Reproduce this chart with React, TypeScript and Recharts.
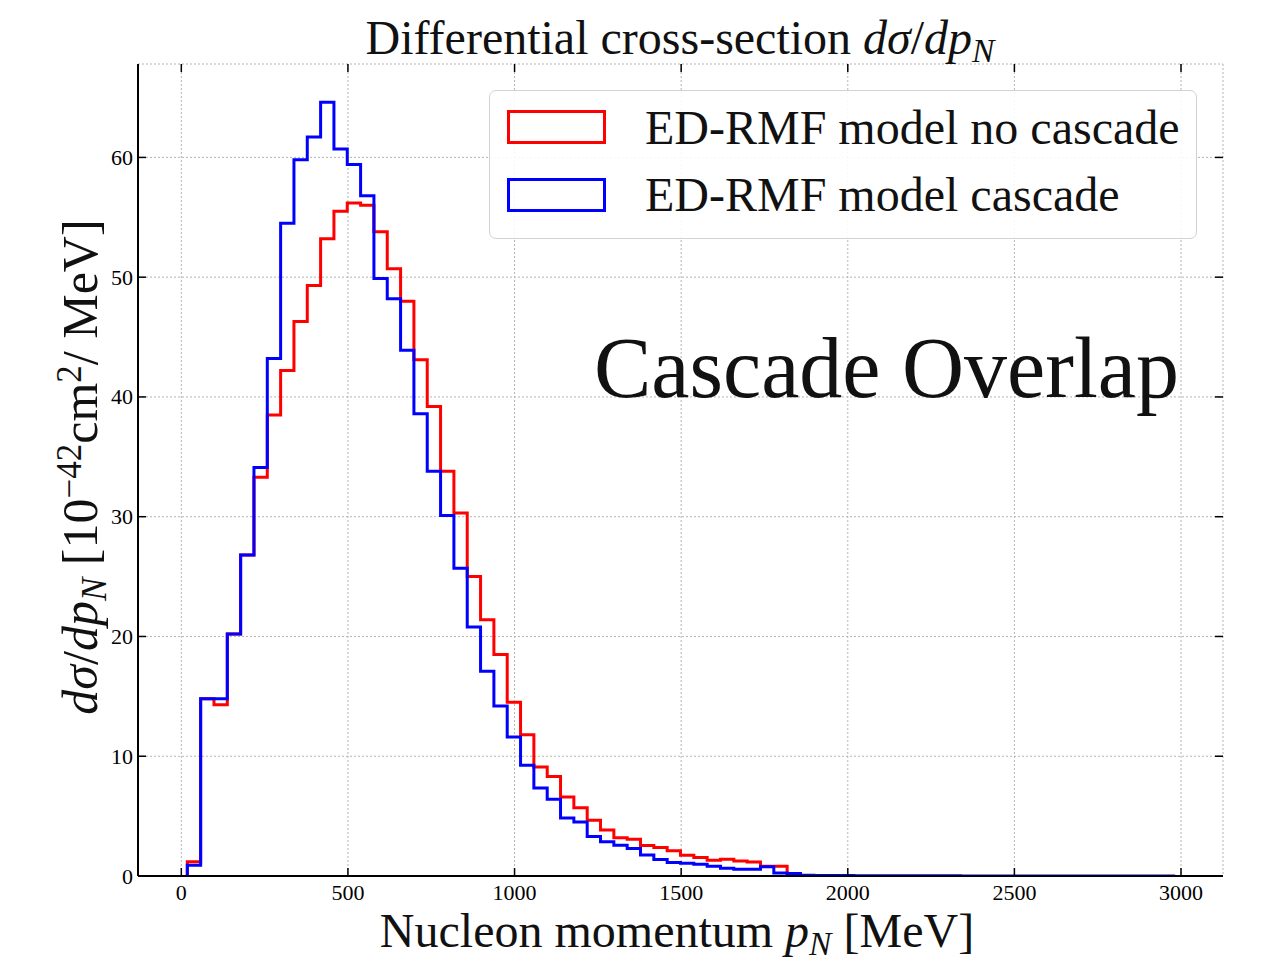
import React from 'react';
import { LineChart, Line, XAxis, YAxis, CartesianGrid, Legend } from 'recharts';

// histogram bin edges [MeV] (40 MeV bins)
const binEdges = [
  18, 58, 98, 138, 178, 218, 258, 298, 338, 378, 418, 458, 498, 538, 578, 618, 658, 698, 738, 778,
  818, 858, 898, 938, 978, 1018, 1058, 1098, 1138, 1178, 1218, 1258, 1298, 1338, 1378, 1418, 1458,
  1498, 1538, 1578, 1618, 1658, 1698, 1738, 1778, 1818, 1858, 1898, 1938, 1978, 2018, 2058, 2098,
  2138, 2178, 2218, 2258, 2298, 2338, 2378, 2418, 2458, 2498, 2538, 2578, 2618, 2658, 2698, 2738,
  2778, 2818, 2858, 2898, 2938, 2978,
];

// ED-RMF model no cascade (per bin)
const noCascade = [
  1.2, 14.8, 14.3, 20.2, 26.8, 33.3, 38.5, 42.2, 46.3, 49.3, 53.2, 55.5, 56.2, 56.0, 53.8, 50.7,
  48.0, 43.1, 39.2, 33.8, 30.3, 25.0, 21.4, 18.5, 14.5, 11.8, 9.1, 8.3, 6.6, 5.7, 4.65, 3.85, 3.2,
  3.07, 2.55, 2.37, 2.1, 1.73, 1.54, 1.31, 1.4, 1.25, 1.17, 0.81, 0.81,
];

// ED-RMF model cascade (per bin)
const cascade = [
  0.9, 14.8, 14.8, 20.2, 26.8, 34.1, 43.2, 54.5, 59.8, 61.7, 64.6, 60.7, 59.4, 56.8, 49.9, 48.2,
  43.9, 38.6, 33.8, 30.1, 25.7, 20.8, 17.1, 14.2, 11.6, 9.25, 7.35, 6.4, 4.85, 4.5, 3.3, 2.85, 2.56,
  2.3, 1.75, 1.37, 1.12, 1.06, 0.98, 0.81, 0.64, 0.56, 0.56, 0.78, 0.25, 0.2, 0.06, 0.05, 0.04,
  0.04, 0.03, 0.03, 0.03, 0.02, 0.02, 0.02, 0.02, 0.02, 0.01, 0.01, 0.01, 0.01, 0.01, 0.01, 0.01,
  0.01, 0.01, 0.01, 0.01, 0.01, 0.01, 0.01, 0.01, 0.01,
];

const xMajor = [0, 500, 1000, 1500, 2000, 2500, 3000];
const xMinor = [
  -100, 100, 200, 300, 400, 600, 700, 800, 900, 1100, 1200, 1300, 1400, 1600, 1700, 1800, 1900,
  2100, 2200, 2300, 2400, 2600, 2700, 2800, 2900, 3100,
];
const yMajor = [0, 10, 20, 30, 40, 50, 60];
const yMinor = [
  2, 4, 6, 8, 12, 14, 16, 18, 22, 24, 26, 28, 32, 34, 36, 38, 42, 44, 46, 48, 52, 54, 56, 58, 62,
  64, 66,
];

const X_DOMAIN: [number, number] = [-130, 3126];
const Y_DOMAIN: [number, number] = [0, 67.8];

const W = 1271;
const H = 975;
const PLOT_LEFT = 138;
const PLOT_TOP = 64;
const PLOT_RIGHT = 1223;
const PLOT_BOTTOM = 876;

const SERIF = '"Liberation Serif", "DejaVu Serif", serif';

function stepPoints(values: number[]) {
  const pts = [{ x: binEdges[0], y: 0 }];
  values.forEach((v, i) => pts.push({ x: binEdges[i], y: v }));
  pts.push({ x: binEdges[values.length], y: values[values.length - 1] });
  pts.push({ x: binEdges[values.length], y: 0 });
  return pts;
}

const redPts = stepPoints(noCascade);
const bluePts = stepPoints(cascade);

const xTickMajor = (props: any) => {
  const { x, payload } = props;
  return (
    <g>
      <line x1={x} x2={x} y1={PLOT_BOTTOM} y2={PLOT_BOTTOM - 8} stroke="#000" strokeWidth={1.5} />
      <line x1={x} x2={x} y1={PLOT_TOP} y2={PLOT_TOP + 8} stroke="#000" strokeWidth={1.5} />
      <text x={x} y={900} textAnchor="middle" fontSize={22} fontFamily={SERIF} fill="#000">
        {payload.value}
      </text>
    </g>
  );
};

const xTickMinor = (props: any) => {
  const { x } = props;
  return (
    <g>
      <line x1={x} x2={x} y1={PLOT_BOTTOM} y2={PLOT_BOTTOM - 4.5} stroke="#000" strokeWidth={1.5} />
      <line x1={x} x2={x} y1={PLOT_TOP} y2={PLOT_TOP + 4.5} stroke="#000" strokeWidth={1.5} />
    </g>
  );
};

const yTickMajor = (props: any) => {
  const { y, payload } = props;
  return (
    <g>
      <line x1={PLOT_LEFT} x2={PLOT_LEFT + 8} y1={y} y2={y} stroke="#000" strokeWidth={1.5} />
      <line x1={PLOT_RIGHT} x2={PLOT_RIGHT - 8} y1={y} y2={y} stroke="#000" strokeWidth={1.5} />
      <text x={PLOT_LEFT - 5} y={y + 7.5} textAnchor="end" fontSize={22} fontFamily={SERIF} fill="#000">
        {payload.value}
      </text>
    </g>
  );
};

const yTickMinor = (props: any) => {
  const { y } = props;
  return (
    <g>
      <line x1={PLOT_LEFT} x2={PLOT_LEFT + 4.5} y1={y} y2={y} stroke="#000" strokeWidth={1.5} />
      <line x1={PLOT_RIGHT} x2={PLOT_RIGHT - 4.5} y1={y} y2={y} stroke="#000" strokeWidth={1.5} />
    </g>
  );
};

const sub = { fontSize: '0.7em', position: 'relative' as const, top: '0.25em' };
const sup = { fontSize: '0.7em', position: 'relative' as const, top: '-0.45em' };

const legendItems = [
  { label: 'ED-RMF model no cascade', color: '#ff0000' },
  { label: 'ED-RMF model cascade', color: '#0000ff' },
];

const LegendBox = () => (
  <div
    style={{
      position: 'relative',
      width: 708,
      height: 149,
      boxSizing: 'border-box',
      border: '1.3px solid #d2d2d2',
      borderRadius: 7,
      background: 'rgba(255,255,255,0.88)',
      fontFamily: SERIF,
    }}
  >
    {legendItems.map((it, i) => (
      <React.Fragment key={it.label}>
        <div
          style={{
            position: 'absolute',
            left: 17,
            top: 19 + i * 68,
            width: 99,
            height: 34,
            boxSizing: 'border-box',
            border: `3px solid ${it.color}`,
          }}
        />
        <div
          style={{
            position: 'absolute',
            left: 155,
            top: 13 + i * 67.4,
            fontSize: 48,
            lineHeight: 1,
            whiteSpace: 'nowrap',
            color: '#111',
          }}
        >
          {it.label}
        </div>
      </React.Fragment>
    ))}
  </div>
);

export default function App() {
  return (
    <div
      style={{
        position: 'absolute',
        left: 0,
        top: 0,
        width: W,
        height: H,
        background: '#fff',
        fontFamily: SERIF,
        color: '#111',
      }}
    >
      <LineChart
        width={W}
        height={H}
        margin={{ top: PLOT_TOP, right: W - PLOT_RIGHT, left: PLOT_LEFT - 60, bottom: H - PLOT_BOTTOM - 40 }}
      >
        <CartesianGrid stroke="#b4b4b4" strokeDasharray="2 2" strokeWidth={1} />
        <XAxis
          dataKey="x"
          type="number"
          domain={X_DOMAIN}
          allowDataOverflow
          ticks={xMajor}
          interval={0}
          height={40}
          tickLine={false}
          axisLine={{ stroke: '#000', strokeWidth: 2 }}
          tick={xTickMajor}
        />
        <XAxis
          xAxisId="minor"
          dataKey="x"
          type="number"
          domain={X_DOMAIN}
          allowDataOverflow
          ticks={xMinor}
          interval={0}
          height={0}
          tickLine={false}
          axisLine={false}
          tick={xTickMinor}
        />
        <XAxis
          xAxisId="top"
          orientation="top"
          type="number"
          domain={X_DOMAIN}
          allowDataOverflow
          height={0}
          tick={false}
          tickLine={false}
          axisLine={{ stroke: '#000', strokeWidth: 2 }}
        />
        <YAxis
          type="number"
          domain={Y_DOMAIN}
          allowDataOverflow
          ticks={yMajor}
          interval={0}
          width={60}
          tickLine={false}
          axisLine={{ stroke: '#000', strokeWidth: 2 }}
          tick={yTickMajor}
        />
        <YAxis
          yAxisId="minor"
          type="number"
          domain={Y_DOMAIN}
          allowDataOverflow
          ticks={yMinor}
          interval={0}
          width={0}
          tickLine={false}
          axisLine={false}
          tick={yTickMinor}
        />
        <YAxis
          yAxisId="right"
          orientation="right"
          type="number"
          domain={Y_DOMAIN}
          allowDataOverflow
          width={0}
          tick={false}
          tickLine={false}
          axisLine={{ stroke: '#000', strokeWidth: 2 }}
        />
        <Legend
          layout="vertical"
          align="center"
          verticalAlign="middle"
          wrapperStyle={{ left: 489, top: 90, width: 708, height: 149 }}
          content={() => <LegendBox />}
        />
        <Line
          data={redPts}
          dataKey="y"
          name="ED-RMF model no cascade"
          type="stepAfter"
          stroke="#ff0000"
          strokeWidth={3}
          strokeLinejoin="miter"
          dot={false}
          activeDot={false}
          isAnimationActive={false}
        />
        <Line
          data={bluePts}
          dataKey="y"
          name="ED-RMF model cascade"
          type="stepAfter"
          stroke="#0000ff"
          strokeWidth={3}
          strokeLinejoin="miter"
          dot={false}
          activeDot={false}
          isAnimationActive={false}
        />
      </LineChart>

      {/* title */}
      <div
        style={{
          position: 'absolute',
          left: 680,
          top: 13.5,
          transform: 'translateX(-50%)',
          fontSize: 48,
          lineHeight: 1,
          whiteSpace: 'nowrap',
        }}
      >
        Differential cross-section <i>dσ</i>/<i>dp<span style={sub}>N</span></i>
      </div>

      {/* annotation */}
      <div
        style={{
          position: 'absolute',
          left: 594,
          top: 325,
          fontSize: 86,
          lineHeight: 1,
          whiteSpace: 'nowrap',
        }}
      >
        Cascade Overlap
      </div>

      {/* x label */}
      <div
        style={{
          position: 'absolute',
          left: 677,
          top: 906.5,
          transform: 'translateX(-50%)',
          fontSize: 48,
          lineHeight: 1,
          whiteSpace: 'nowrap',
        }}
      >
        Nucleon momentum <i>p<span style={sub}>N</span></i> [MeV]
      </div>

      {/* y label */}
      <div
        style={{
          position: 'absolute',
          left: 80,
          top: 467,
          transform: 'translate(-50%, -50%) rotate(-90deg)',
          fontSize: 50,
          lineHeight: 1,
          whiteSpace: 'nowrap',
        }}
      >
        <i>dσ</i>/<i>dp<span style={sub}>N</span></i> [10<span style={sup}>−42</span>cm<span style={sup}>2</span>/ MeV]
      </div>
    </div>
  );
}
